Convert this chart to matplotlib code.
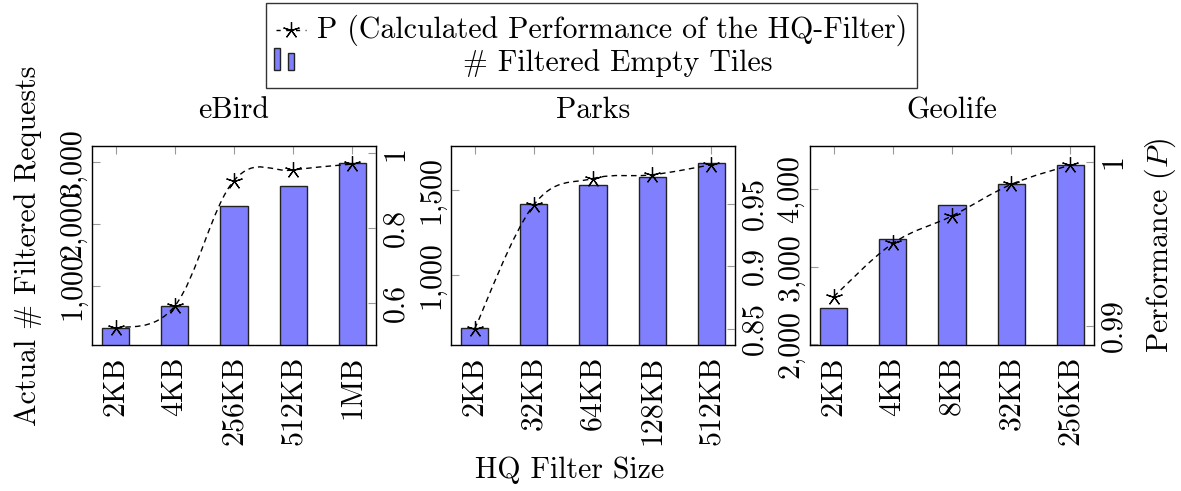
import matplotlib
matplotlib.use("Agg")
import matplotlib.pyplot as plt
import numpy as np
from matplotlib.path import Path
from matplotlib.patches import PathPatch, Rectangle
from matplotlib.lines import Line2D
from matplotlib.ticker import FuncFormatter

plt.rcParams['font.family'] = 'serif'
plt.rcParams['font.serif'] = ['cmr10', 'DejaVu Serif']
plt.rcParams['mathtext.fontset'] = 'cm'
plt.rcParams['axes.formatter.use_mathtext'] = True
plt.rcParams['axes.unicode_minus'] = False
FS = 21.5

# data
titles = ["eBird", "Parks", "Geolife"]
ebird_sizes = ["2KB", "4KB", "256KB", "512KB", "1MB"]
ebird_tiles = [310, 671, 2292, 2621, 2984]
ebird_perf = [0.533, 0.593, 0.927, 0.955, 0.971]

parks_sizes = ["2KB", "32KB", "64KB", "128KB", "512KB"]
parks_tiles = [690, 1420, 1532, 1576, 1661]
parks_perf = [0.850, 0.949, 0.970, 0.973, 0.981]

geolife_sizes = ["2KB", "4KB", "8KB", "32KB", "256KB"]
geolife_tiles = [2470, 3358, 3793, 4065, 4318]
geolife_perf = [0.99178, 0.99503, 0.9967, 0.99862, 0.9998]

# axis setup per panel
left_lims = [(39, 3264), (592, 1759), (1987, 4560)]
left_ticks = [[1000, 2000, 3000], [1000, 1500], [2000, 3000, 4000]]
right_lims = [(0.489, 1.019), (0.837, 0.996), (0.98884, 1.00096)]
right_ticks = [[0.6, 0.8, 1.0], [0.85, 0.9, 0.95], [0.99, 1.0]]
right_labels = [["0.6", "0.8", "1"], ["0.85", "0.9", "0.95"], ["0.99", "1"]]

sizes = [ebird_sizes, parks_sizes, geolife_sizes]
tiles = [ebird_tiles, parks_tiles, geolife_tiles]
perf = [ebird_perf, parks_perf, geolife_perf]

W, H = 1181, 491
fig = plt.figure(figsize=(W / 100, H / 100), dpi=100)
lefts = [92, 451, 810]

BAR = '#8080ff'
TICKC = '#999999'


def smooth_path(xs, ys, k=0.55 / 3):
    pts = np.column_stack([xs, ys]).astype(float)
    n = len(pts)
    verts = [pts[0]]
    codes = [Path.MOVETO]
    for i in range(n - 1):
        p0 = pts[max(i - 1, 0)]
        p1 = pts[i]
        p2 = pts[i + 1]
        p3 = pts[min(i + 2, n - 1)]
        c1 = p1 + (p2 - p0) * k
        c2 = p2 - (p3 - p1) * k
        verts += [c1, c2, p2]
        codes += [Path.CURVE4] * 3
    return Path(verts, codes)


for i in range(3):
    ax = fig.add_axes([lefts[i] / W, (H - 345) / H, 284 / W, 199 / H])
    x = np.arange(len(sizes[i]))
    ax.bar(x, tiles[i], width=0.46, color=BAR, edgecolor='#222222', linewidth=1.0, zorder=2)
    ax.set_xlim(-0.4, 4.4)
    ax.set_ylim(*left_lims[i])
    ax.set_yticks(left_ticks[i])
    ax.yaxis.set_major_formatter(FuncFormatter(lambda v, p: "{:,.0f}".format(v)))
    ax.set_xticks(x)
    ax.set_xticklabels(sizes[i], rotation=90, fontsize=FS)
    ax.tick_params(axis='x', direction='in', length=6, color=TICKC, top=True, pad=8)
    ax.tick_params(axis='y', direction='in', length=6, color=TICKC, labelsize=FS, pad=4)
    for t in ax.get_yticklabels():
        t.set_rotation(90)
        t.set_va('center')
        t.set_ha('right')
    for s in ax.spines.values():
        s.set_linewidth(1.0)
        s.set_color('#333333')
    ax.set_title(titles[i], fontsize=FS, pad=20)

    ax2 = ax.twinx()
    ax2.set_ylim(*right_lims[i])
    ax2.set_yticks(right_ticks[i])
    ax2.set_yticklabels(right_labels[i])
    ax2.tick_params(axis='y', direction='in', length=6, color=TICKC, labelsize=FS, pad=4)
    for t in ax2.get_yticklabels():
        t.set_rotation(90)
        t.set_va('center')
        t.set_ha('left')
    ax2.add_patch(PathPatch(smooth_path(x, perf[i]), fill=False, edgecolor='black',
                            linestyle=(0, (4, 3)), linewidth=1.0, zorder=3))
    ax2.plot(x, perf[i], linestyle='none', marker=(5, 2, 0), markersize=12,
             markeredgecolor='black', markeredgewidth=0.9, zorder=4, clip_on=False)
    if i == 0:
        ax.set_ylabel("Actual # Filtered Requests", fontsize=FS, labelpad=12)
    if i == 2:
        ax2.set_ylabel("Performance ($P$)", fontsize=FS, labelpad=11)

fig.text(570 / W, 1 - 470 / H, "HQ Filter Size", fontsize=FS, ha='center', va='center')

# legend box
fig.patches.append(Rectangle((266 / W, 1 - 88 / H), (917 - 266) / W, 85 / H,
                             transform=fig.transFigure, fill=False,
                             edgecolor='#333333', linewidth=1.0))
fig.lines.append(Line2D([276 / W, 306 / W], [1 - 30 / H, 1 - 30 / H], transform=fig.transFigure,
                        color='black', linestyle=(0, (3, 4)), linewidth=1.0))
fig.lines.append(Line2D([291 / W], [1 - 30 / H], transform=fig.transFigure, marker=(5, 2, 0),
                        markersize=12, color='black', markeredgewidth=0.9))
fig.text(317 / W, 1 - 30 / H, "P (Calculated Performance of the HQ-Filter)", fontsize=FS,
         ha='left', va='center')
fig.patches.append(Rectangle((274 / W, 1 - 70 / H), 6 / W, 22 / H, transform=fig.transFigure,
                             facecolor=BAR, edgecolor='#222222', linewidth=1.0))
fig.patches.append(Rectangle((288 / W, 1 - 70 / H), 6 / W, 17 / H, transform=fig.transFigure,
                             facecolor=BAR, edgecolor='#222222', linewidth=1.0))
fig.text(618 / W, 1 - 63 / H, "# Filtered Empty Tiles", fontsize=FS, ha='center', va='center')

fig.savefig("out.png", dpi=100)
